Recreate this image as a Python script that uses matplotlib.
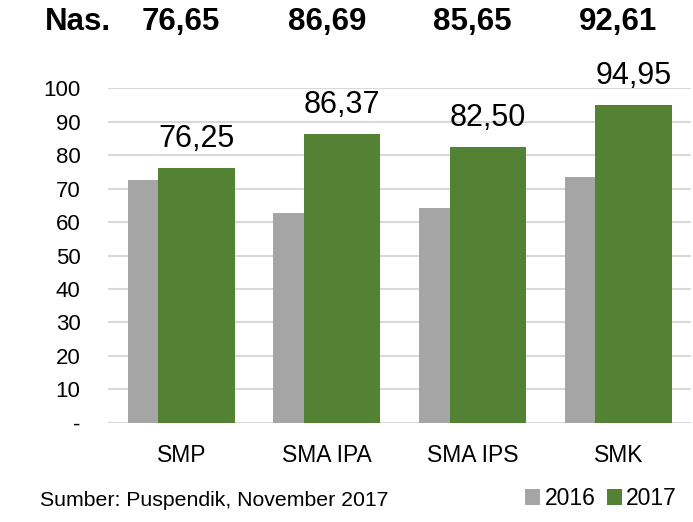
import numpy as np
import matplotlib
matplotlib.use('Agg')
import matplotlib.pyplot as plt
from matplotlib.transforms import blended_transform_factory

plt.rcParams['font.family'] = ['Liberation Sans', 'DejaVu Sans']

categories = ['SMP', 'SMA IPA', 'SMA IPS', 'SMK']
val_2016 = [72.6, 62.8, 64.2, 73.6]
val_2017 = [76.25, 86.37, 82.50, 94.95]
nasional = ['76,65', '86,69', '85,65', '92,61']
years = ['2016', '2017']
yticks = [0, 10, 20, 30, 40, 50, 60, 70, 80, 90, 100]
ytick_labels = ['-', '10', '20', '30', '40', '50', '60', '70', '80', '90', '100']

c16 = '#a5a5a5'
c17 = '#548235'

fig = plt.figure(figsize=(6.93, 5.22), dpi=100)
ax = fig.add_axes([0.1564, 0.1902, 0.841, 0.6406])

x = np.arange(len(categories))
w = 0.525
off = 0.105
b16 = ax.bar(x - off, val_2016, w, color=c16, zorder=2, label=years[0])
b17 = ax.bar(x + off, val_2017, w, color=c17, zorder=3, label=years[1])

for xi, v in zip(x, val_2017):
    ax.annotate(f'{v:.2f}'.replace('.', ','), (xi + off, v), xytext=(0, 21),
                textcoords='offset points', ha='center', va='center',
                fontsize=22, color='black', annotation_clip=False)

ax.set_xlim(-0.5, len(categories) - 0.5)
ax.set_ylim(0, 100)
ax.set_yticks(yticks)
ax.set_yticklabels(ytick_labels, fontsize=16)
ax.set_xticks(x)
ax.set_xticklabels(categories, fontsize=16.5)
ax.tick_params(axis='y', length=0, pad=20)
ax.tick_params(axis='x', length=0, pad=15)
ax.grid(axis='y', color='#d9d9d9', linewidth=1.5, zorder=0)
ax.set_axisbelow(True)
for s in ax.spines.values():
    s.set_visible(False)

# national averages row on top
tr = blended_transform_factory(ax.transData, fig.transFigure)
fig.text(0.112, 0.958, 'Nas.', fontsize=22.5, fontweight='bold', ha='center', va='center')
for xi, t in zip(x, nasional):
    ax.text(xi, 0.958, t, transform=tr, fontsize=22.5, fontweight='bold',
            ha='center', va='center')

fig.text(0.058, 0.042, 'Sumber: Puspendik, November 2017', fontsize=15.3,
         ha='left', va='center')
fig.legend(handles=[b16, b17], loc='center right', bbox_to_anchor=(1.0, 0.045),
           ncol=2, frameon=False, fontsize=16.5, handlelength=0.65, handleheight=0.65,
           handletextpad=0.2, columnspacing=0.5, borderaxespad=0.3)

fig.savefig('out.png', dpi=100)
